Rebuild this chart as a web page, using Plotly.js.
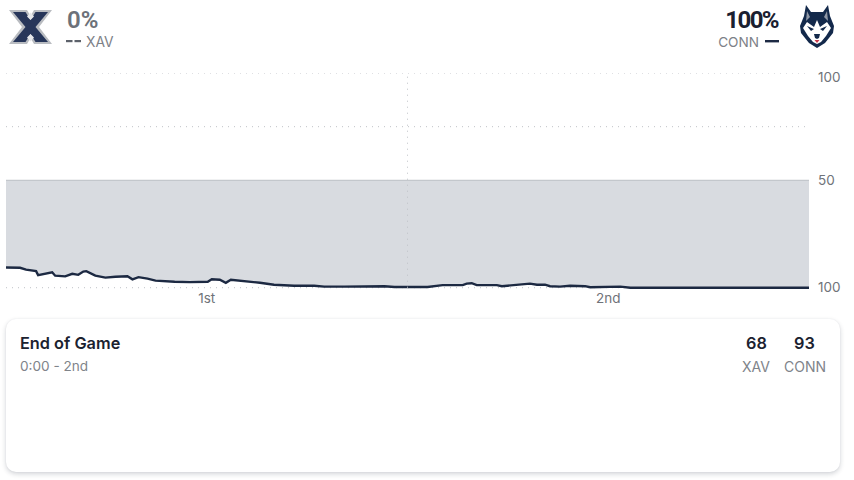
<!DOCTYPE html>
<html>
<head>
<meta charset="utf-8">
<script src="https://cdn.plot.ly/plotly-3.0.1.min.js"></script>
<style>
html,body{margin:0;padding:0;width:854px;height:480px;background:#fff;overflow:hidden;font-family:Inter,sans-serif}
#chart{position:absolute;left:0;top:0;width:854px;height:480px}
.t{position:absolute;white-space:nowrap;line-height:1}
#card{position:absolute;left:6px;top:319px;width:834px;height:153px;border-radius:10px;background:#fff;box-shadow:0 2px 5px rgba(30,40,60,.2),0 0 2px rgba(30,40,60,.06)}
svg.logo{position:absolute}
</style>
</head>
<body>
<div id="chart"></div>
<div id="card"></div>

<svg class="logo" style="left:9px;top:9px" width="43" height="36" viewBox="0 0 43 36">
  <path d="M0 1H18L21.5 7 25 1H43L30 18 43 35H25L21.5 29 18 35H0L13 18Z" fill="#b9bcc1"/>
  <path d="M4 3H16.5L21.5 11 26.5 3H39L26.5 18 39 33H26.5L21.5 25 16.5 33H4L16.5 18Z" fill="#27365a"/>
  <path d="M21.5 3.5 25 7.5 21.5 11 18 7.5ZM21.5 25 25 28.5 21.5 32.5 18 28.5Z" fill="#e6e7ea"/>
</svg>
<svg class="logo" style="left:800px;top:5px" width="34" height="43" viewBox="0 0 34 43">
  <path d="M6 0 11 7H23L28 0 30 11 34 21 33 28 25 38 17 43 9 38 1 28 0 21 4 11Z" fill="#13294b"/>
  <path d="M7 6 10 12 6 16ZM27 6 24 12 28 16Z" fill="#8f97a6"/>
  <path d="M17 15 20 22 27 17 31 23 26 31 21 37 17 39 13 37 8 31 3 23 7 17 14 22Z" fill="#fff"/>
  <path d="M7 21 14 24 11 26ZM27 21 20 24 23 26Z" fill="#13294b"/>
  <path d="M14 29H20L19 33 17 34 15 33Z" fill="#13294b"/>
  <path d="M14.5 35H19.5L17 38Z" fill="#c8374a"/>
</svg>

<div class="t" style="left:67px;top:6px;font:600 24px Roboto,sans-serif;color:#6c7179">0%</div>
<svg class="logo" style="left:66px;top:40px" width="16" height="4"><rect x="0" y="0" width="6.5" height="2.2" fill="#5d626b"/><rect x="8.5" y="0" width="6.5" height="2.2" fill="#5d626b"/></svg>
<div class="t" style="left:86px;top:34px;font:400 13.8px Inter,sans-serif;color:#7d8187">XAV</div>

<div class="t" style="right:76px;top:6px;font:700 24px Roboto,sans-serif;letter-spacing:-1.6px;color:#1a2030">100%</div>
<div class="t" style="right:95px;top:34px;font:400 13.6px Inter,sans-serif;color:#7d8187">CONN</div>
<svg class="logo" style="left:765px;top:40px" width="14" height="3"><rect x="0" y="0" width="14" height="2.4" fill="#1d2a44"/></svg>

<div class="t" style="left:20px;top:333px;font:600 16.3px Inter,sans-serif;color:#1b2230">End of Game</div>
<div class="t" style="left:20px;top:358px;font:400 13.6px Inter,sans-serif;color:#80848a">0:00 - 2nd</div>
<div class="t" style="left:746px;top:333px;font:600 16.3px Inter,sans-serif;color:#1b2230">68</div>
<div class="t" style="left:794px;top:333px;font:600 16.3px Inter,sans-serif;color:#1b2230">93</div>
<div class="t" style="left:742px;top:358px;font:400 14px Inter,sans-serif;color:#80848a">XAV</div>
<div class="t" style="left:784px;top:358px;font:400 14px Inter,sans-serif;color:#80848a">CONN</div>

<script>
// Game minutes elapsed
var minutes = [0,0.7,1,1.5,1.6,1.95,2.3,2.45,2.95,3.3,3.6,3.85,4,4.45,4.95,5.45,6.05,6.3,6.6,7.05,7.45,8.4,9.15,10.05,10.25,10.65,10.95,11.2,11.7,12.35,12.65,13.35,14.35,15.35,15.85,16.85,18.35,18.85,19.35,20.35,21,21.75,22.75,22.95,23.2,23.45,24.45,24.7,25.85,26.1,26.45,26.85,27.1,27.6,28.1,28.85,29.1,30.6,31.1,40];
// XAV win probability (%)
var xavWin = [9.4,9.3,8.4,7.7,5.8,6.5,7.2,5.6,5.3,6.5,6,7.5,7.7,5.6,4.7,5.1,5.3,3.9,4.9,4.2,3.3,2.8,2.6,2.8,3.9,3.7,2.3,3.7,3.3,2.6,2.3,1.4,0.9,0.9,0.5,0.5,0.5,0.7,0.3,0.5,0.3,1.2,1.2,1.9,2.1,1.2,1.2,0.7,1.4,1.9,1.4,1.4,0.7,0.5,0.9,0.7,0.2,0.5,0,0];
var fiftyLine = [50,50];
var gameSpan = [0,40];
var valueSpan = [-2,100];
var gridValues = [0,25,75,100];
var tickValues = [0,50];
var tickLabels = ['100','50'];
var periodTicks = [10,30];
var periodLabels = ['1st','2nd'];

var dot = {color:'#bfc2c7',width:1,dash:'1px 5px'};
var traces = [
  {x:gameSpan,y:fiftyLine,mode:'lines',line:{color:'#c3c7cc',width:1.2},hoverinfo:'skip'},
  {x:minutes,y:xavWin,mode:'lines',fill:'tonexty',fillcolor:'#d8dbe0',line:{color:'#1c2942',width:2.4},hoverinfo:'skip'}
];
var shapes = gridValues.map(function(v){
  return {type:'line',xref:'paper',yref:'y',x0:0,x1:1,y0:v,y1:v,line:dot,layer:'below'};
});
shapes.push({type:'line',xref:'x',yref:'y',x0:20,x1:20,y0:0,y1:100,line:dot,layer:'above'});

var layout = {
  width:854,height:480,showlegend:false,
  paper_bgcolor:'rgba(0,0,0,0)',plot_bgcolor:'rgba(0,0,0,0)',
  margin:{l:6,r:45,t:73,b:187.7,pad:0},
  font:{family:'Inter, sans-serif',size:13.5,color:'#6f7379'},
  xaxis:{range:gameSpan,tickvals:periodTicks,ticktext:periodLabels,ticks:'',showgrid:false,zeroline:false,showline:false,tickfont:{size:13.5,color:'#6f7379'},ticklabelstandoff:-4},
  yaxis:{range:valueSpan,side:'right',tickvals:tickValues,ticktext:tickLabels,ticks:'',showgrid:false,zeroline:false,showline:false,tickfont:{size:13.5,color:'#6f7379'},ticklabelstandoff:8},
  shapes:shapes,
  annotations:[{xref:'paper',yref:'y',x:1,y:100,xanchor:'left',yanchor:'middle',xshift:7,yshift:-4,showarrow:false,text:'100',font:{size:13.5,color:'#6f7379'}}]
};
Plotly.newPlot('chart',traces,layout,{staticPlot:true,displayModeBar:false});
</script>
</body>
</html>
